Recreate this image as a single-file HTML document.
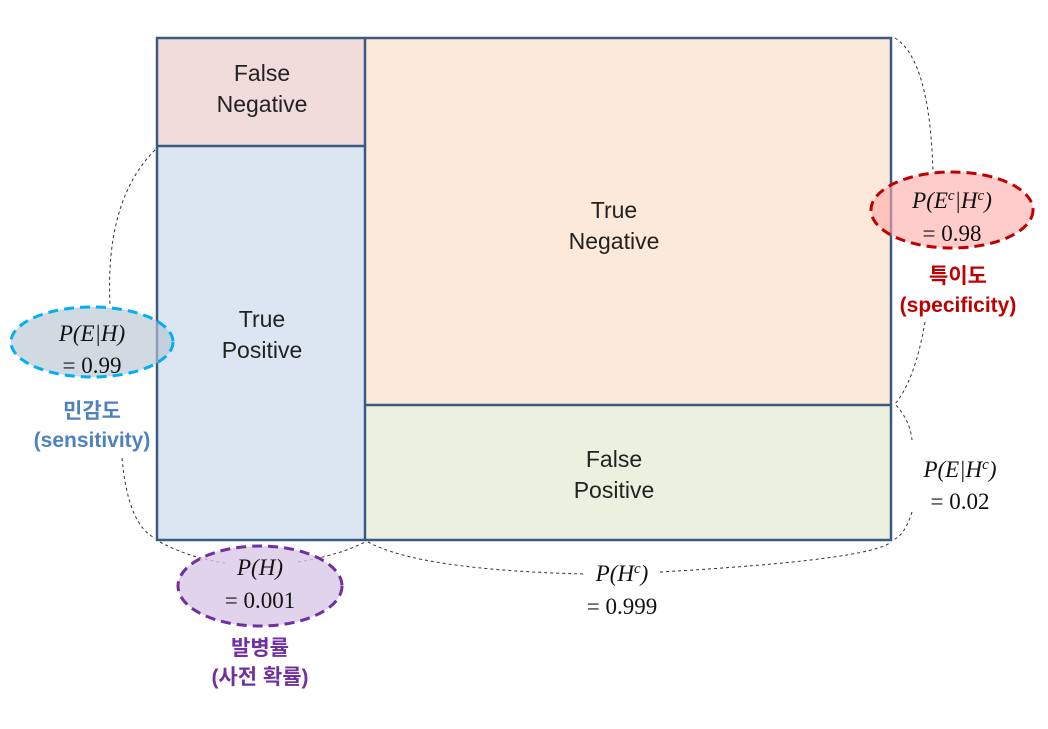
<!DOCTYPE html>
<html><head><meta charset="utf-8"><style>
body{margin:0;background:#fff;width:1048px;height:724px;overflow:hidden}
svg text{font-family:"Liberation Sans","Noto Sans CJK KR",sans-serif}
svg .m text{font-family:"Liberation Serif","DejaVu Serif",serif;font-size:23px;fill:#111}
.l text{font-size:23px;fill:#222}
</style></head><body>
<svg width="1048" height="724" viewBox="0 0 1048 724">
<rect x="157" y="38" width="208" height="108" fill="#f2dcdb"/>
<rect x="157" y="146" width="208" height="394" fill="#dce6f2"/>
<rect x="365" y="38" width="526" height="367" fill="#fde9d9"/>
<rect x="365" y="405" width="526" height="135" fill="#ebf1de"/>
<g fill="none" stroke="#3b5a82" stroke-width="2.5">
<rect x="157" y="38" width="734" height="502"/>
<line x1="365" y1="38" x2="365" y2="540"/>
<line x1="157" y1="146" x2="365" y2="146"/>
<line x1="365" y1="405" x2="891" y2="405"/>
</g>
<g fill="none" stroke="#333" stroke-width="1" stroke-dasharray="3,3">
<path d="M155 150 Q105 200 110 305"/>
<path d="M122 458 Q128 525 155 538"/>
<path d="M160 542 Q190 558 225 563"/>
<path d="M298 562 Q340 555 365 542"/>
<path d="M368 542 Q420 570 585 574"/>
<path d="M660 572 Q870 560 891 542"/>
<path d="M895 38 Q930 60 933 173"/>
<path d="M925 322 Q915 380 895 404 Q910 420 912 440"/>
<path d="M912 512 Q905 535 893 540"/>
</g>
<g text-anchor="middle" class="l">
<text x="262" y="81">False</text><text x="262" y="112">Negative</text>
<text x="262" y="327">True</text><text x="262" y="358">Positive</text>
<text x="614" y="218">True</text><text x="614" y="249">Negative</text>
<text x="614" y="467">False</text><text x="614" y="498">Positive</text>
</g>
<ellipse cx="92" cy="342" rx="81" ry="35" fill="#b8c4d4" fill-opacity="0.65" stroke="#00b0f0" stroke-width="3" stroke-dasharray="10,6"/>
<ellipse cx="952" cy="210" rx="81" ry="38" fill="#ffaaaa" fill-opacity="0.6" stroke="#c00000" stroke-width="3" stroke-dasharray="10,6"/>
<ellipse cx="260" cy="586" rx="82" ry="40" fill="#d9c8e6" fill-opacity="0.8" stroke="#7030a0" stroke-width="3" stroke-dasharray="10,6"/>
<g text-anchor="middle" class="m">
<text x="92" y="341" font-style="italic">P(E|H)</text><text x="92" y="373">= 0.99</text>
<text x="952" y="208" font-style="italic">P(E<tspan font-size="15" dy="-8">c</tspan><tspan dy="8">|H</tspan><tspan font-size="15" dy="-8">c</tspan><tspan dy="8">)</tspan></text><text x="952" y="241">= 0.98</text>
<text x="260" y="575" font-style="italic">P(H)</text><text x="260" y="608">= 0.001</text>
<text x="960" y="477" font-style="italic">P(E|H<tspan font-size="15" dy="-8">c</tspan><tspan dy="8">)</tspan></text><text x="960" y="509">= 0.02</text>
<text x="622" y="581" font-style="italic">P(H<tspan font-size="15" dy="-8">c</tspan><tspan dy="8">)</tspan></text><text x="622" y="614">= 0.999</text>
</g>
<g text-anchor="middle" font-weight="bold" font-size="21">
<text x="92" y="418" fill="#4f81bd">민감도</text>
<text x="92" y="447" fill="#4f81bd">(sensitivity)</text>
<text x="958" y="283" fill="#c00000">특이도</text>
<text x="958" y="312" fill="#c00000">(specificity)</text>
<text x="260" y="655" fill="#7030a0">발병률</text>
<text x="260" y="684" fill="#7030a0">(사전 확률)</text>
</g>
</svg>
</body></html>
